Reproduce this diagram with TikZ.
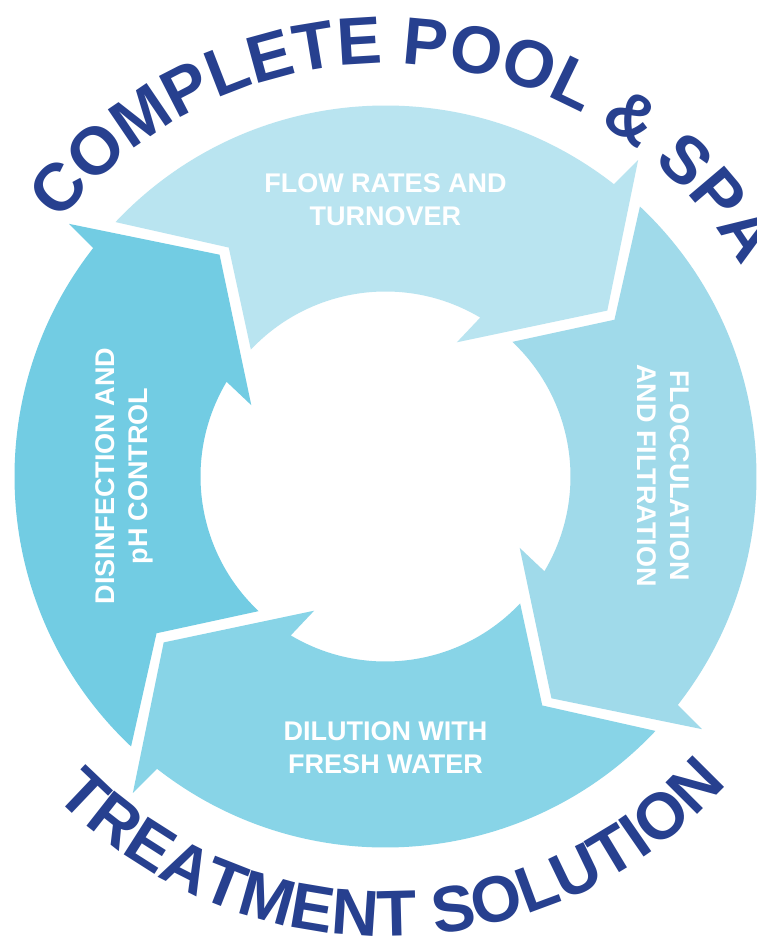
\documentclass[tikz,border=0pt]{standalone}
\usepackage{fontspec}
\setmainfont{Liberation Sans}
\usetikzlibrary{decorations.text}

\definecolor{flowcol}{HTML}{B9E4F0}
\definecolor{floccol}{HTML}{A0DAEA}
\definecolor{dilcol}{HTML}{88D4E7}
\definecolor{discol}{HTML}{72CCE3}
\definecolor{titlecol}{HTML}{27408F}

\begin{document}
\begin{tikzpicture}
      \tikzstyle{LBL} = [text=white, font=\fontsize{27}{33}\selectfont\bfseries, align=center, inner sep=0pt]
      \tikzstyle{TTL} = [decorate, decoration={text along path, text align=left}]

      \useasboundingbox[fill=white] (-385.5pt,-461.5pt) rectangle (370.5pt,476.5pt);

      %%%%% ARROWS
      \fill[flowcol] ({136.7-0}:371pt) arc[start angle={136.7-0}, end angle={52-0}, radius=371pt] -- ({51.4-0}:405pt) -- ({36.8-0}:277pt) -- ({62-0}:152pt) -- ({59.2-0}:185pt) arc[start angle={59.2-0}, end angle={136.7-0}, radius=185pt] -- ({124.4-0}:277.5pt) -- cycle;
      \fill[floccol] ({136.7-90}:371pt) arc[start angle={136.7-90}, end angle={52-90}, radius=371pt] -- ({51.4-90}:405pt) -- ({36.8-90}:277pt) -- ({62-90}:152pt) -- ({59.2-90}:185pt) arc[start angle={59.2-90}, end angle={136.7-90}, radius=185pt] -- ({124.4-90}:277.5pt) -- cycle;
      \fill[dilcol] ({136.7-180}:371pt) arc[start angle={136.7-180}, end angle={52-180}, radius=371pt] -- ({51.4-180}:405pt) -- ({36.8-180}:277pt) -- ({62-180}:152pt) -- ({59.2-180}:185pt) arc[start angle={59.2-180}, end angle={136.7-180}, radius=185pt] -- ({124.4-180}:277.5pt) -- cycle;
      \fill[discol] ({136.7-270}:371pt) arc[start angle={136.7-270}, end angle={52-270}, radius=371pt] -- ({51.4-270}:405pt) -- ({36.8-270}:277pt) -- ({62-270}:152pt) -- ({59.2-270}:185pt) arc[start angle={59.2-270}, end angle={136.7-270}, radius=185pt] -- ({124.4-270}:277.5pt) -- cycle;

      %%%%% LABELS
      \node[LBL] (flow) at (0pt,277pt) {FLOW RATES AND\\TURNOVER};
      \node[LBL, rotate=-90] (floc) at (278pt,1pt) {FLOCCULATION\\AND FILTRATION};
      \node[LBL] (dil) at (0pt,-271pt) {DILUTION WITH\\FRESH WATER};
      \node[LBL, rotate=90] (dis) at (-261pt,0.5pt) {DISINFECTION AND\\pH CONTROL};

      %%%%% TITLE
      \path[TTL, decoration={text={|\fontsize{67}{80}\selectfont\bfseries\color{titlecol}|COMPLETE POOL {\&} SPA}}] (142:413pt) arc[start angle=142, end angle=10, radius=413pt];
      \path[TTL, decoration={text={|\fontsize{65}{78}\selectfont\bfseries\color{titlecol}|TREATMENT SOLUTION}}] (224:460pt) arc[start angle=224, end angle=330, radius=460pt];
\end{tikzpicture}
\end{document}
